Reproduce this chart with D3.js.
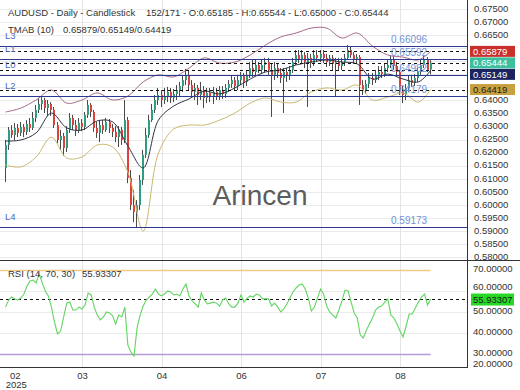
<!DOCTYPE html>
<html>
<head>
<meta charset="utf-8">
<script src="https://cdn.jsdelivr.net/npm/d3@7"></script>
<style>
body { margin: 0; background: #fff; }
svg text { font-family: "Liberation Sans", Arial, sans-serif; }
</style>
</head>
<body>
<script>
// daily candles, AUDUSD (index 0..139, last one is bar 152/171)
var opens = [0.6142,0.6230,0.6287,0.6268,0.6295,0.6276,0.6299,0.6280,0.6310,0.6295,
  0.6333,0.6364,0.6387,0.6402,0.6371,0.6387,0.6364,0.6306,0.6249,0.6264,
  0.6218,0.6287,0.6333,0.6306,0.6287,0.6314,0.6299,0.6345,0.6383,0.6356,
  0.6295,0.6276,0.6306,0.6287,0.6318,0.6295,0.6280,0.6260,0.6287,0.6249,
  0.6325,0.6104,0.6000,0.5974,0.6000,0.6096,0.6192,0.6268,0.6325,0.6364,
  0.6402,0.6421,0.6402,0.6417,0.6433,0.6410,0.6425,0.6440,0.6455,0.6478,
  0.6498,0.6459,0.6433,0.6448,0.6421,0.6440,0.6410,0.6429,0.6413,0.6433,
  0.6417,0.6440,0.6425,0.6448,0.6463,0.6478,0.6455,0.6478,0.6494,0.6471,
  0.6498,0.6524,0.6509,0.6536,0.6517,0.6536,0.6547,0.6517,0.6498,0.6524,
  0.6505,0.6486,0.6509,0.6494,0.6517,0.6547,0.6574,0.6555,0.6574,0.6547,
  0.6563,0.6543,0.6574,0.6563,0.6578,0.6563,0.6547,0.6563,0.6540,0.6547,
  0.6532,0.6547,0.6563,0.6593,0.6574,0.6555,0.6566,0.6459,0.6440,0.6463,
  0.6486,0.6478,0.6498,0.6509,0.6501,0.6524,0.6536,0.6555,0.6532,0.6509,
  0.6440,0.6421,0.6448,0.6478,0.6467,0.6486,0.6509,0.6536,0.6555,0.65185];
var highs = [0.6249,0.6299,0.6306,0.6314,0.6310,0.6318,0.6310,0.6325,0.6333,0.6356,
  0.6383,0.6410,0.6413,0.6410,0.6402,0.6394,0.6375,0.6318,0.6287,0.6276,
  0.6302,0.6352,0.6345,0.6325,0.6333,0.6329,0.6356,0.6402,0.6390,0.6364,
  0.6318,0.6325,0.6325,0.6333,0.6329,0.6310,0.6302,0.6302,0.6299,0.6402,
  0.6337,0.6134,0.6058,0.6019,0.6115,0.6211,0.6295,0.6345,0.6387,0.6421,
  0.6448,0.6440,0.6448,0.6452,0.6448,0.6444,0.6459,0.6471,0.6498,0.6521,
  0.6517,0.6478,0.6467,0.6459,0.6471,0.6455,0.6448,0.6448,0.6452,0.6448,
  0.6455,0.6455,0.6463,0.6478,0.6494,0.6490,0.6498,0.6509,0.6505,0.6517,
  0.6547,0.6555,0.6555,0.6547,0.6555,0.6563,0.6563,0.6540,0.6547,0.6540,
  0.6524,0.6524,0.6524,0.6532,0.6563,0.6593,0.6593,0.6593,0.6585,0.6582,
  0.6578,0.6593,0.6593,0.6593,0.6593,0.6578,0.6574,0.6574,0.6563,0.6563,
  0.6563,0.6578,0.6612,0.6605,0.6585,0.6578,0.6574,0.6478,0.6478,0.6505,
  0.6505,0.6517,0.6532,0.6532,0.6540,0.6555,0.6574,0.6570,0.6547,0.6517,
  0.6455,0.6463,0.6494,0.6498,0.6501,0.6524,0.6555,0.6570,0.6566,0.65544];
var lows = [0.6088,0.6211,0.6257,0.6249,0.6260,0.6264,0.6260,0.6268,0.6280,0.6287,
  0.6318,0.6352,0.6364,0.6352,0.6341,0.6341,0.6295,0.6237,0.6211,0.6188,
  0.6203,0.6276,0.6287,0.6264,0.6276,0.6283,0.6287,0.6333,0.6337,0.6280,
  0.6257,0.6241,0.6272,0.6280,0.6276,0.6260,0.6241,0.6222,0.6230,0.6237,
  0.6084,0.5981,0.5935,0.5916,0.5981,0.6077,0.6180,0.6257,0.6318,0.6352,
  0.6383,0.6375,0.6387,0.6394,0.6390,0.6394,0.6402,0.6413,0.6433,0.6459,
  0.6440,0.6413,0.6402,0.6383,0.6402,0.6371,0.6390,0.6394,0.6387,0.6402,
  0.6402,0.6406,0.6410,0.6433,0.6448,0.6440,0.6440,0.6459,0.6448,0.6455,
  0.6486,0.6490,0.6494,0.6505,0.6501,0.6509,0.6498,0.6337,0.6478,0.6486,
  0.6467,0.6352,0.6471,0.6478,0.6505,0.6536,0.6543,0.6540,0.6524,0.6375,
  0.6524,0.6532,0.6547,0.6547,0.6543,0.6528,0.6532,0.6517,0.6413,0.6517,
  0.6517,0.6532,0.6555,0.6563,0.6540,0.6540,0.6383,0.6421,0.6425,0.6448,
  0.6459,0.6467,0.6478,0.6486,0.6490,0.6509,0.6524,0.6517,0.6494,0.6421,
  0.6390,0.6402,0.6433,0.6452,0.6455,0.6471,0.6498,0.6524,0.6509,0.65000];
var closes = [0.6230,0.6287,0.6268,0.6295,0.6276,0.6299,0.6280,0.6310,0.6295,0.6333,
  0.6364,0.6387,0.6402,0.6371,0.6387,0.6364,0.6306,0.6249,0.6264,0.6218,
  0.6287,0.6333,0.6306,0.6287,0.6314,0.6299,0.6345,0.6383,0.6356,0.6295,
  0.6276,0.6306,0.6287,0.6318,0.6295,0.6280,0.6260,0.6287,0.6249,0.6325,
  0.6104,0.6000,0.5974,0.6000,0.6096,0.6192,0.6268,0.6325,0.6364,0.6402,
  0.6421,0.6402,0.6417,0.6433,0.6410,0.6425,0.6440,0.6455,0.6478,0.6498,
  0.6459,0.6433,0.6448,0.6421,0.6440,0.6410,0.6429,0.6413,0.6433,0.6417,
  0.6440,0.6425,0.6448,0.6463,0.6478,0.6455,0.6478,0.6494,0.6471,0.6498,
  0.6524,0.6509,0.6536,0.6517,0.6536,0.6547,0.6517,0.6498,0.6524,0.6505,
  0.6486,0.6509,0.6494,0.6517,0.6547,0.6574,0.6555,0.6574,0.6547,0.6563,
  0.6543,0.6574,0.6563,0.6578,0.6563,0.6547,0.6563,0.6540,0.6547,0.6532,
  0.6547,0.6563,0.6593,0.6574,0.6555,0.6566,0.6459,0.6440,0.6463,0.6486,
  0.6478,0.6498,0.6509,0.6501,0.6524,0.6536,0.6555,0.6532,0.6509,0.6440,
  0.6421,0.6448,0.6478,0.6467,0.6486,0.6509,0.6536,0.6555,0.6517,0.65444];

// RSI(14) per bar
var rsi = [52.1,55.5,56.9,56.0,55.5,56.4,58.3,62.1,64.5,65.0,
  63.6,67.9,63.6,59.8,57.4,52.1,45.0,39.3,40.7,47.4,
  54.0,54.5,50.7,50.7,52.1,51.2,53.1,58.8,57.9,52.1,
  48.3,46.0,47.4,49.8,49.3,47.9,44.0,48.3,47.4,52.1,
  34.0,30.7,28.8,42.1,48.3,52.6,55.5,56.9,58.3,60.7,
  58.3,57.4,58.3,59.8,59.3,57.9,58.3,57.4,60.7,63.1,
  57.4,55.0,53.6,52.1,58.8,55.5,53.6,54.0,54.5,54.0,
  52.6,55.5,56.4,53.6,52.1,52.1,54.0,57.9,54.5,56.4,
  57.4,56.9,58.3,57.9,56.0,56.0,56.0,52.6,54.0,52.1,
  49.8,51.2,53.6,56.4,59.3,61.2,62.6,63.1,60.7,56.4,
  50.2,52.1,56.4,60.7,58.3,52.6,49.8,48.3,46.9,50.7,
  55.0,60.2,59.8,54.5,49.3,46.9,38.8,37.4,41.2,44.0,
  46.9,50.7,52.1,52.6,54.5,56.0,48.3,46.9,44.0,40.7,
  37.9,43.1,48.8,48.8,51.7,54.5,56.9,58.3,53.1,55.93307];

// TMA band (10), read every 5 bars
var bandIdx = [0,5,10,15,20,25,30,35,40,45,50,55,60,65,70,75,80,85,90,95,100,105,110,115,120,125,130,135,139];
var bandUpper = [0.6356,0.6371,0.6402,0.6440,0.6390,0.6402,0.6429,0.6402,0.6417,0.6471,0.6498,0.6490,0.6524,0.6563,
  0.6543,0.6547,0.6574,0.6612,0.6643,0.6658,0.6677,0.6677,0.6639,0.6658,0.6608,0.6574,0.6566,0.6555,0.65879];
var bandMid = [0.6245,0.6249,0.6276,0.6352,0.6295,0.6287,0.6322,0.6318,0.6226,0.6142,0.6325,0.6379,0.6406,0.6436,
  0.6425,0.6448,0.6482,0.6509,0.6517,0.6536,0.6547,0.6555,0.6547,0.6540,0.6482,0.6501,0.6482,0.6471,0.65149];
var bandLower = [0.6153,0.6146,0.6184,0.6260,0.6180,0.6184,0.6230,0.6222,0.6126,0.5900,0.6199,0.6291,0.6306,0.6306,
  0.6325,0.6352,0.6390,0.6410,0.6394,0.6394,0.6433,0.6448,0.6440,0.6459,0.6402,0.6413,0.6429,0.6394,0.64419];

// support / resistance levels
var levels = [0.66096, 0.65592, 0.64982, 0.64179, 0.59173];
var levelNames = ["L3", "L1", "L0", "L2", "L4"];

var priceTicks = [0.580,0.585,0.590,0.595,0.600,0.605,0.610,0.615,0.620,0.625,
  0.630,0.635,0.640,0.645,0.650,0.655,0.660,0.665,0.670,0.675];
var rsiTicks = [20, 30, 40, 50, 60, 70];
var monthIdx = [3, 25, 51, 77, 103, 129];
var monthLabels = ["02", "03", "04", "06", "07", "08"];

var W = 520, H = 390;
var plotW = 467, mainH = 260.5, rsiTop = 261, rsiBottom = 368;
var last = closes.length - 1;
var fs = 9.5;

var svg = d3.select("body").append("svg")
    .attr("width", W)
    .attr("height", H);

var x = d3.scaleLinear().domain([-1.82, 150.9]).range([0, plotW]);
var y = d3.scaleLinear().domain([0.5788, 0.67844]).range([mainH, 0]);
var yr = d3.scaleLinear().domain([23.1, 74.05]).range([rsiBottom, rsiTop]);

var defs = svg.append("defs");
defs.append("clipPath").attr("id", "clipMain")
    .append("rect").attr("x", 0).attr("y", 0).attr("width", plotW).attr("height", mainH);
defs.append("clipPath").attr("id", "clipRsi")
    .append("rect").attr("x", 0).attr("y", rsiTop).attr("width", plotW).attr("height", rsiBottom - rsiTop);

// grid
svg.append("g").selectAll("line")
    .data(priceTicks)
    .enter().append("line")
    .attr("x1", 0).attr("x2", plotW)
    .attr("y1", function (d) { return Math.round(y(d)) + 0.5; })
    .attr("y2", function (d) { return Math.round(y(d)) + 0.5; })
    .attr("stroke", "#ebebeb");

svg.append("g").selectAll("line")
    .data([40, 50, 60])
    .enter().append("line")
    .attr("x1", 0).attr("x2", plotW)
    .attr("y1", function (d) { return Math.round(yr(d)) + 0.5; })
    .attr("y2", function (d) { return Math.round(yr(d)) + 0.5; })
    .attr("stroke", "#ebebeb");

svg.append("g").selectAll("line")
    .data(monthIdx.slice(1))
    .enter().append("line")
    .attr("x1", function (d) { return Math.round(x(d)) + 0.5; })
    .attr("x2", function (d) { return Math.round(x(d)) + 0.5; })
    .attr("y1", 0).attr("y2", rsiBottom)
    .attr("stroke", "#e4e4e4");

// watermark
svg.append("text")
    .attr("x", 260).attr("y", 205)
    .attr("text-anchor", "middle")
    .attr("font-size", 28)
    .attr("fill", "#5c5c5c")
    .text("Arincen");

var main = svg.append("g").attr("clip-path", "url(#clipMain)");

// candles
var bars = d3.range(closes.length).map(function (i) {
    return {i: i, o: opens[i], h: highs[i], l: lows[i], c: closes[i]};
});

main.append("g").selectAll("line")
    .data(bars)
    .enter().append("line")
    .attr("x1", function (d) { return Math.round(x(d.i)) - 0.5; })
    .attr("x2", function (d) { return Math.round(x(d.i)) - 0.5; })
    .attr("y1", function (d) { return y(d.h); })
    .attr("y2", function (d) { return y(d.l); })
    .attr("stroke", "#4a4a4a");

main.append("g").selectAll("rect")
    .data(bars)
    .enter().append("rect")
    .attr("x", function (d) { return Math.round(x(d.i)) - 1; })
    .attr("width", 2)
    .attr("y", function (d) { return y(Math.max(d.o, d.c)); })
    .attr("height", function (d) { return Math.max(1, Math.abs(y(d.o) - y(d.c))); })
    .attr("fill", function (d) { return d.c >= d.o ? "#2e9e82" : "#e0403a"; });

// TMA bands
function bandLine(vals) {
    return d3.line()
        .x(function (d, k) { return x(bandIdx[k]); })
        .y(function (d) { return y(d); })
        .curve(d3.curveCatmullRom)(vals);
}
main.append("path").attr("d", bandLine(bandUpper)).attr("fill", "none").attr("stroke", "#a5698c").attr("stroke-width", 1);
main.append("path").attr("d", bandLine(bandMid)).attr("fill", "none").attr("stroke", "#2e3346").attr("stroke-width", 1);
main.append("path").attr("d", bandLine(bandLower)).attr("fill", "none").attr("stroke", "#cbb871").attr("stroke-width", 1);

// level lines
main.append("g").selectAll("line")
    .data(levels)
    .enter().append("line")
    .attr("x1", 0).attr("x2", plotW)
    .attr("y1", function (d) { return Math.round(y(d)) + 0.5; })
    .attr("y2", function (d) { return Math.round(y(d)) + 0.5; })
    .attr("stroke", "#2b3990");

// dashed lines at last values
var lastVals = [bandUpper[bandUpper.length - 1], closes[last], bandMid[bandMid.length - 1], bandLower[bandLower.length - 1]];
main.append("g").selectAll("line")
    .data(lastVals)
    .enter().append("line")
    .attr("x1", 0).attr("x2", plotW)
    .attr("y1", function (d) { return Math.round(y(d)) + 0.5; })
    .attr("y2", function (d) { return Math.round(y(d)) + 0.5; })
    .attr("stroke", "#111")
    .attr("stroke-dasharray", "3,3");

svg.append("g").selectAll("text")
    .data(levels)
    .enter().append("text")
    .attr("x", 5)
    .attr("y", function (d) { return y(d) - 6.5; })
    .attr("font-size", fs)
    .attr("fill", "#4b67c2")
    .text(function (d, k) { return levelNames[k]; });

svg.append("g").selectAll("text")
    .data(levels)
    .enter().append("text")
    .attr("x", 391)
    .attr("y", function (d) { return y(d) - 3; })
    .attr("font-size", 10)
    .attr("fill", "#7391d6")
    .text(d3.format(".5f"));

// titles
svg.append("text").attr("x", 8).attr("y", 16).attr("font-size", fs).attr("fill", "#333")
    .text("AUDUSD - Daily - Candlestick");
svg.append("text").attr("x", 146).attr("y", 16).attr("font-size", fs).attr("fill", "#333")
    .text("152/171 - O:" + opens[last].toFixed(5) + " - H:" + highs[last].toFixed(5) +
          " - L:" + lows[last].toFixed(5) + " - C:" + closes[last].toFixed(5));
svg.append("text").attr("x", 8).attr("y", 33).attr("font-size", fs).attr("fill", "#333")
    .text("TMAB (10)");
svg.append("text").attr("x", 63).attr("y", 33).attr("font-size", fs).attr("fill", "#333")
    .text(lastVals[0].toFixed(5) + "/" + lastVals[2].toFixed(5) + "/" + lastVals[3].toFixed(5));

// value boxes on price axis
var boxes = [
    {v: lastVals[0], fill: "#c9302c", txt: "#fff"},
    {v: lastVals[1], fill: "#3dbf9f", txt: "#fff"},
    {v: lastVals[2], fill: "#1b2361", txt: "#fff"},
    {v: lastVals[3], fill: "#c9a03e", txt: "#222"}
];
var prevY = -100;
boxes.forEach(function (b) {
    b.y = Math.max(y(b.v), prevY + 11.5);
    prevY = b.y;
});

// price axis (labels hidden under the value boxes are left out)
var pAxis = svg.append("g")
    .attr("transform", "translate(" + plotW + ",0)")
    .call(d3.axisRight(y).tickValues(priceTicks).tickFormat(d3.format(".5f")).tickSize(0).tickPadding(7));
pAxis.select(".domain").remove();
pAxis.selectAll("text").attr("font-size", fs).attr("fill", "#333").attr("dy", "0.22em");
pAxis.selectAll(".tick").filter(function (d) {
    return boxes.some(function (b) { return Math.abs(y(d) - b.y) < 8; });
}).remove();

var bx = svg.append("g").selectAll("g").data(boxes).enter().append("g");
bx.append("rect")
    .attr("x", 470).attr("width", 45)
    .attr("y", function (d) { return d.y - 5.5; })
    .attr("height", 11)
    .attr("fill", function (d) { return d.fill; });
bx.append("text")
    .attr("x", 473)
    .attr("y", function (d) { return d.y + 3.5; })
    .attr("font-size", fs)
    .attr("fill", function (d) { return d.txt; })
    .text(function (d) { return d.v.toFixed(5); });

// RSI panel
var rp = svg.append("g").attr("clip-path", "url(#clipRsi)");
rp.append("line")
    .attr("x1", 0).attr("x2", x(last))
    .attr("y1", Math.round(yr(70)) + 0.5).attr("y2", Math.round(yr(70)) + 0.5)
    .attr("stroke", "#f3c987").attr("stroke-width", 1.5);
rp.append("line")
    .attr("x1", 0).attr("x2", x(last))
    .attr("y1", Math.round(yr(30)) + 0.5).attr("y2", Math.round(yr(30)) + 0.5)
    .attr("stroke", "#b49ad8").attr("stroke-width", 1.5);
rp.append("line")
    .attr("x1", 0).attr("x2", plotW)
    .attr("y1", Math.round(yr(rsi[last])) + 0.5).attr("y2", Math.round(yr(rsi[last])) + 0.5)
    .attr("stroke", "#111").attr("stroke-dasharray", "3,3");
rp.append("path")
    .datum(rsi)
    .attr("fill", "none")
    .attr("stroke", "#62d462")
    .attr("stroke-width", 1.1)
    .attr("d", d3.line()
        .x(function (d, i) { return x(i); })
        .y(function (d) { return yr(d); }));

svg.append("text").attr("x", 8).attr("y", 277).attr("font-size", fs).attr("fill", "#333")
    .text("RSI (14, 70, 30)");
svg.append("text").attr("x", 82).attr("y", 277).attr("font-size", fs).attr("fill", "#333")
    .text(rsi[last].toFixed(5));

var rAxis = svg.append("g")
    .attr("transform", "translate(" + plotW + ",0)")
    .call(d3.axisRight(yr).tickValues(rsiTicks).tickFormat(d3.format(".5f")).tickSize(0).tickPadding(6));
rAxis.select(".domain").remove();
rAxis.selectAll("text").attr("font-size", fs).attr("fill", "#333").attr("dy", "0.2em");
rAxis.selectAll(".tick").filter(function (d) { return d === 60; })
    .attr("transform", "translate(0," + (yr(60) - 2) + ")");
rAxis.selectAll(".tick").filter(function (d) { return d === 20; })
    .attr("transform", "translate(0,365)");

svg.append("rect")
    .attr("x", 471).attr("width", 43)
    .attr("y", yr(rsi[last]) - 5.5).attr("height", 12)
    .attr("fill", "#27d827");
svg.append("text")
    .attr("x", 473).attr("y", yr(rsi[last]) + 3.8)
    .attr("font-size", fs).attr("fill", "#1a1a1a")
    .text(rsi[last].toFixed(5));

// x axis
var xAxis = svg.append("g")
    .attr("transform", "translate(0," + rsiBottom + ")")
    .call(d3.axisBottom(x).tickValues(monthIdx)
        .tickFormat(function (d, k) { return monthLabels[k]; })
        .tickSize(0).tickPadding(4));
xAxis.select(".domain").remove();
xAxis.selectAll("text").attr("font-size", fs).attr("fill", "#333");
svg.append("text").attr("x", x(monthIdx[0]) + 1.5).attr("y", 388)
    .attr("text-anchor", "middle").attr("font-size", fs).attr("fill", "#333")
    .text("2025");

// frame
svg.append("line").attr("x1", plotW + 0.5).attr("x2", plotW + 0.5).attr("y1", 0).attr("y2", rsiBottom)
    .attr("stroke", "#333");
svg.append("line").attr("x1", 0).attr("x2", W).attr("y1", 260.5).attr("y2", 260.5)
    .attr("stroke", "#333");
svg.append("line").attr("x1", 0).attr("x2", plotW).attr("y1", rsiBottom - 0.5).attr("y2", rsiBottom - 0.5)
    .attr("stroke", "#333");
</script>
</body>
</html>
